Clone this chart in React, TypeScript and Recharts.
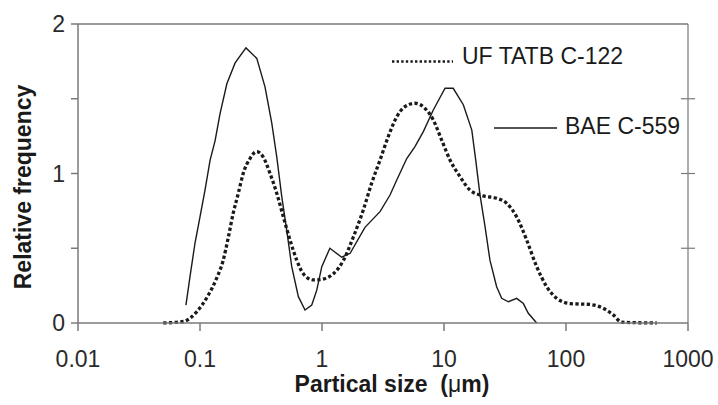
import React from 'react';
import { LineChart, Line, XAxis, YAxis, ReferenceLine } from 'recharts';

// Particle size (µm) and relative frequency for each powder
const baeSize = [0.0767, 0.0828, 0.091, 0.1, 0.11, 0.121, 0.133, 0.146, 0.166, 0.194, 0.238, 0.292, 0.341, 0.387, 0.426, 0.468, 0.514, 0.565, 0.64, 0.726, 0.824, 0.906, 0.996, 1.16, 1.45, 1.7, 2.25, 2.99, 3.61, 4.1, 4.95, 5.78, 6.77, 8.17, 10.2, 11.9, 14.4, 16.9, 18.2, 19.7, 21.7, 23.8, 27.0, 29.7, 33.7, 39.4, 44.7, 49.1, 57.5];
const baeFreq = [0.12, 0.31, 0.535, 0.71, 0.89, 1.09, 1.22, 1.4, 1.6, 1.74, 1.84, 1.77, 1.58, 1.34, 1.11, 0.845, 0.62, 0.377, 0.176, 0.087, 0.12, 0.22, 0.377, 0.5, 0.44, 0.466, 0.64, 0.745, 0.856, 0.956, 1.1, 1.18, 1.28, 1.425, 1.57, 1.57, 1.46, 1.29, 1.09, 0.86, 0.644, 0.42, 0.243, 0.165, 0.142, 0.165, 0.13, 0.065, 0];

const tatbSize = [0.05, 0.0729, 0.094, 0.117, 0.137, 0.155, 0.171, 0.187, 0.206, 0.226, 0.257, 0.292, 0.33, 0.375, 0.426, 0.482, 0.547, 0.621, 0.703, 0.849, 0.964, 1.24, 1.5, 1.81, 2.18, 2.55, 2.99, 3.49, 4.1, 4.79, 5.78, 6.98, 8.17, 9.57, 11.2, 13.5, 16.3, 21.0, 27.0, 32.7, 39.4, 47.6, 57.5, 69.5, 83.9, 108, 157, 202, 244, 286, 554];
const tatbFreq = [0, 0.01, 0.075, 0.187, 0.3, 0.42, 0.577, 0.733, 0.867, 1.0, 1.1, 1.146, 1.11, 1.0, 0.867, 0.71, 0.555, 0.42, 0.33, 0.288, 0.29, 0.33, 0.42, 0.577, 0.756, 0.934, 1.09, 1.246, 1.38, 1.447, 1.47, 1.436, 1.358, 1.224, 1.09, 0.98, 0.89, 0.85, 0.834, 0.8, 0.71, 0.555, 0.377, 0.243, 0.165, 0.13, 0.124, 0.098, 0.054, 0.005, 0];

const seriesNames = ['UF TATB C-122', 'BAE C-559'];
const xTicks = [0.01, 0.1, 1, 10, 100, 1000];
const yTicks = [0, 0.5, 1, 1.5, 2];
const rightTicks = [0.5, 1, 1.5];

const bae = baeSize.map((x, i) => ({ x, y: baeFreq[i] }));
const tatb = tatbSize.map((x, i) => ({ x, y: tatbFreq[i] }));

const FONT = '"Liberation Sans", Arial, sans-serif';
const INK = '#1a1a1a';
const AXIS = '#7a7a7a';

const CrossTick = (props: any) => {
  const { x, y } = props;
  return <line x1={x - 7} x2={x + 7} y1={y} y2={y} stroke={AXIS} strokeWidth={1.2} />;
};

export default function App() {
  return (
    <div style={{ position: 'absolute', left: 0, top: 0, width: 718, height: 405, background: '#fff' }}>
      <LineChart width={718} height={405} margin={{ top: 24, right: 0, bottom: 0, left: 0 }}>
        <XAxis
          dataKey="x"
          type="number"
          scale="log"
          domain={[0.01, 1000]}
          ticks={xTicks}
          allowDataOverflow
          height={82}
          stroke={AXIS}
          strokeWidth={1.5}
          tickSize={8}
          tickMargin={20}
          tickFormatter={(v: number) => String(v)}
          tick={{ fill: '#2a2a2a', fontSize: 23, fontFamily: FONT }}
        />
        <YAxis
          yAxisId="l"
          type="number"
          domain={[0, 2]}
          ticks={yTicks}
          width={78}
          stroke={AXIS}
          strokeWidth={1.5}
          tickSize={7}
          tickMargin={6}
          tickFormatter={(v: number) => (Number.isInteger(v) ? String(v) : '')}
          tick={{ fill: '#2a2a2a', fontSize: 23, fontFamily: FONT }}
        />
        <YAxis
          yAxisId="r"
          orientation="right"
          type="number"
          domain={[0, 2]}
          ticks={rightTicks}
          width={30}
          stroke={AXIS}
          strokeWidth={1.2}
          tickSize={0}
          tickMargin={0}
          tickLine={false}
          tick={<CrossTick />}
        />
        <ReferenceLine yAxisId="l" y={2} stroke="#9a9a9a" strokeWidth={2} />
        <Line
          yAxisId="l"
          data={bae}
          dataKey="y"
          name={seriesNames[1]}
          type="linear"
          stroke={INK}
          strokeWidth={1.4}
          dot={false}
          isAnimationActive={false}
        />
        <Line
          yAxisId="r"
          data={tatb}
          dataKey="y"
          name={seriesNames[0]}
          type="monotone"
          stroke={INK}
          strokeWidth={3.3}
          strokeDasharray="3.3 2.4"
          dot={false}
          isAnimationActive={false}
        />
      </LineChart>
      <svg width={718} height={405} style={{ position: 'absolute', left: 0, top: 0, pointerEvents: 'none' }}>
        <text
          transform="translate(31,187) rotate(-90)"
          textAnchor="middle"
          fontFamily={FONT}
          fontWeight="bold"
          fontSize={23}
          fill={INK}
        >
          Relative frequency
        </text>
        <text
          x={392}
          y={392}
          textAnchor="middle"
          fontFamily={FONT}
          fontWeight="bold"
          fontSize={23}
          fill={INK}
          style={{ whiteSpace: 'pre' }}
        >
          {'Partical size  ('}
          <tspan fontWeight="normal">μ</tspan>
          {'m)'}
        </text>
        <line x1={392} x2={453} y1={61.5} y2={61.5} stroke={INK} strokeWidth={2.4} strokeDasharray="2.4 2.2" />
        <text x={462} y={63.5} fontFamily={FONT} fontSize={23} fill={INK}>
          {seriesNames[0]}
        </text>
        <line x1={494} x2={557} y1={128} y2={128} stroke={INK} strokeWidth={1.3} />
        <text x={565} y={133.5} fontFamily={FONT} fontSize={23} fill={INK}>
          {seriesNames[1]}
        </text>
      </svg>
    </div>
  );
}
